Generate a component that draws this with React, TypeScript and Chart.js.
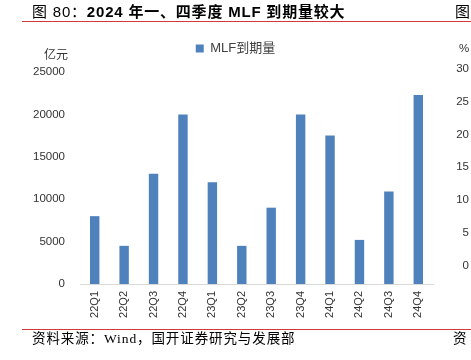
import React, { useEffect, useRef } from 'react';
import { Chart, registerables } from 'chart.js';

Chart.register(...registerables);

// ---- data ----
const categories = ['22Q1', '22Q2', '22Q3', '22Q4', '23Q1', '23Q2', '23Q3', '23Q4', '24Q1', '24Q2', '24Q3', '24Q4'];
const mlfMaturity = [8000, 4500, 13000, 20000, 12000, 4500, 9000, 20000, 17500, 5200, 10900, 22300];
const seriesName = 'MLF到期量';
const yMin = 0;
const yMax = 25000;
const yStep = 5000;
const unitLabel = '亿元';
const titleLead = '图 80：';
const titleMain = '2024 年一、四季度 MLF 到期量较大';
const sourceText = '资料来源：Wind，国开证券研究与发展部';
const neighbourTitle = '图';
const neighbourUnit = '%';
const neighbourTicks = ['30', '25', '20', '15', '10', '5', '0'];
const neighbourSource = '资';

const SANS = '"Liberation Sans", "Noto Sans CJK SC", sans-serif';
const SERIF = '"Liberation Serif", "Noto Sans CJK SC", serif';
const TEXT = '#333333';
const RED = '#d23a3a';

export default function App() {
  const ref = useRef<HTMLCanvasElement>(null);

  useEffect(() => {
    if (!ref.current) return;
    const chart = new Chart(ref.current, {
      type: 'bar',
      data: {
        labels: categories,
        datasets: [
          {
            label: seriesName,
            data: mlfMaturity,
            backgroundColor: '#4f81bd',
            borderWidth: 0,
            barPercentage: 0.32,
            categoryPercentage: 1,
          },
        ],
      },
      options: {
        animation: false,
        responsive: false,
        maintainAspectRatio: false,
        layout: { padding: { top: 32, left: 0, right: 0, bottom: 0 } },
        plugins: {
          tooltip: { enabled: false },
          title: { display: false },
          legend: {
            display: true,
            position: 'top',
            align: 'center',
            labels: {
              boxWidth: 8,
              boxHeight: 8,
              padding: 10,
              color: '#404040',
              font: { size: 13, family: SANS },
            },
          },
          subtitle: {
            display: true,
            text: '',
            position: 'top',
            weight: 500,
            padding: { top: 0, bottom: 0 },
            font: { size: 7, lineHeight: 1 },
          },
        },
        scales: {
          x: {
            grid: { display: false, drawTicks: false },
            border: { display: true, color: '#d9d9d9', width: 1 },
            ticks: {
              autoSkip: false,
              minRotation: 90,
              maxRotation: 90,
              padding: 7,
              color: TEXT,
              font: { size: 11, family: SANS },
            },
            afterFit: (s: any) => {
              s.height = 76;
            },
          },
          y: {
            min: yMin,
            max: yMax,
            grid: { display: false, drawTicks: false },
            border: { display: false },
            ticks: {
              stepSize: yStep,
              padding: 15,
              color: TEXT,
              font: { size: 11.5, family: SANS },
              callback: (v: any) => String(v),
            },
            afterFit: (s: any) => {
              s.width = 80;
            },
          },
          yRightMargin: {
            position: 'right',
            display: true,
            grid: { display: false, drawTicks: false },
            border: { display: false },
            ticks: { display: false },
            afterFit: (s: any) => {
              s.width = 38;
            },
          },
        },
      },
    });
    return () => chart.destroy();
  }, []);

  return (
    <div style={{ position: 'absolute', left: 0, top: 0, width: 471, height: 360, background: '#fff', overflow: 'hidden' }}>
      <canvas ref={ref} width={471} height={360} style={{ position: 'absolute', left: 0, top: 0, display: 'block' }} />
      {/* title */}
      <div style={{ position: 'absolute', left: 32, top: 4, fontFamily: SANS, fontSize: 15, lineHeight: '16px', letterSpacing: '0.8px', color: '#000', whiteSpace: 'nowrap' }}>
        <span style={{ fontWeight: 'normal' }}>{titleLead}</span>
        <span style={{ fontWeight: 'bold' }}>{titleMain}</span>
      </div>
      <div style={{ position: 'absolute', left: 455, top: 4, fontFamily: SANS, fontSize: 15, lineHeight: '16px', color: '#000', whiteSpace: 'nowrap' }}>
        {neighbourTitle}
      </div>
      <div style={{ position: 'absolute', left: 22, top: 21, width: 449, height: 1, background: RED }} />
      {/* unit label */}
      <div style={{ position: 'absolute', left: 44, top: 47, fontFamily: SANS, fontSize: 12, lineHeight: '16px', color: TEXT, whiteSpace: 'nowrap' }}>
        {unitLabel}
      </div>
      {/* neighbouring chart fragment */}
      <div style={{ position: 'absolute', left: 459, top: 40, fontFamily: SANS, fontSize: 11.5, lineHeight: '16px', color: TEXT }}>
        {neighbourUnit}
      </div>
      {neighbourTicks.map((t, i) => (
        <div
          key={t}
          style={{
            position: 'absolute',
            right: 2,
            top: 60 + i * 32.8,
            fontFamily: SANS,
            fontSize: 11.5,
            lineHeight: '16px',
            color: TEXT,
            textAlign: 'right',
          }}
        >
          {t}
        </div>
      ))}
      {/* source */}
      <div style={{ position: 'absolute', left: 22, top: 329, width: 449, height: 1, background: RED }} />
      <div style={{ position: 'absolute', left: 32, top: 331, fontFamily: SERIF, fontSize: 13.5, lineHeight: '16px', letterSpacing: '0.9px', color: '#000', whiteSpace: 'nowrap' }}>
        {sourceText}
      </div>
      <div style={{ position: 'absolute', left: 453, top: 331, fontFamily: SERIF, fontSize: 13.5, lineHeight: '16px', color: '#000', whiteSpace: 'nowrap' }}>
        {neighbourSource}
      </div>
    </div>
  );
}
